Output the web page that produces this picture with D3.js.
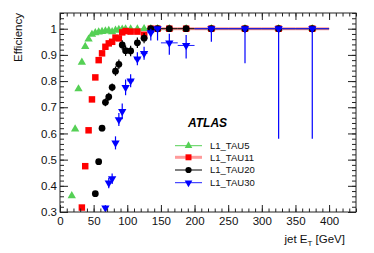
<!DOCTYPE html>
<html>
<head>
<meta charset="utf-8">
<script src="https://cdn.jsdelivr.net/npm/d3@7"></script>
<style>
  body { margin: 0; background: #fff; }
  text { font-family: "Liberation Sans", Arial, Helvetica, sans-serif; }
</style>
</head>
<body>
<div id="chart"></div>
<script>
// bin centres (GeV) and efficiencies
const tau5X  = [17.5,22.5,27.5,32.5,37.5,42.5,47.5,52.5,57.5,62.5,67.5,72.5,77.5,82.5,87.5,92.5,97.5,105,115,125,135,145,162.5,187.5,225,275,325,375]
const tau5Y  = [0.362,0.617,0.770,0.872,0.932,0.960,0.978,0.984,0.987,0.989,0.991,0.993,0.988,0.994,0.997,0.998,0.999,0.999,0.999,1,1,1,1,1,1,1,1,1]

const tau11X = [32.5,37.5,42.5,47.5,52.5,57.5,62.5,67.5,72.5,77.5,82.5,87.5,92.5,97.5,105,115,125,135,145,162.5,187.5,225,275,325,375]
const tau11Y = [0.317,0.475,0.612,0.730,0.814,0.880,0.906,0.931,0.944,0.950,0.966,0.963,0.986,0.991,0.989,0.989,0.977,1,1,1,1,1,1,1,1]

const tau20X = [52.5,57.5,62.5,67.5,72.5,77.5,82.5,87.5,92.5,97.5,105,115,125,135,145,162.5,187.5,225,275,325,375]
const tau20Y = [0.370,0.492,0.620,0.719,0.740,0.776,0.838,0.864,0.938,0.916,0.915,0.946,0.964,1,1,1,1,1,1,1,1]
const tau20ErrLo = [0.008,0.01,0.012,0.015,0.015,0.015,0.018,0.018,0.018,0.02,0.02,0.02,0.02,0,0,0,0,0,0,0,0]
const tau20ErrHi = [0.008,0.01,0.012,0.015,0.015,0.015,0.018,0.018,0.018,0.02,0.02,0.02,0.02,0,0,0,0,0,0,0,0]

const tau30X = [67.5,72.5,77.5,82.5,87.5,92.5,97.5,105,115,125,135,145,162.5,187.5,225,275,325,375]
const tau30Y = [0.316,0.411,0.427,0.564,0.653,0.684,0.776,0.801,0.885,0.906,0.985,1,0.946,0.936,1,1,1,1]
const tau30ErrLo = [0.01,0.02,0.02,0.025,0.025,0.03,0.03,0.025,0.025,0.025,0.03,0.045,0.045,0.05,0.05,0.132,0.42,0.42]
const tau30ErrHi = [0.01,0.02,0.02,0.025,0.025,0.03,0.03,0.025,0.025,0.025,0.015,0,0.035,0.04,0,0,0,0]

const xTicks = [0,50,100,150,200,250,300,350,400]
const yTicks = [0.3,0.4,0.5,0.6,0.7,0.8,0.9,1]
const legendNames = ["L1_TAU5","L1_TAU11","L1_TAU20","L1_TAU30"]

// half width of each bin from its centre
function halfWidth(x) {
    if (x < 100) return 2.5
    if (x < 150) return 5
    if (x < 200) return 12.5
    return 25
}

const width = 374, height = 253
const margin = {left: 60, right: 18, top: 13, bottom: 41}
const x = d3.scaleLinear().domain([0, 440]).range([margin.left, width - margin.right])
const y = d3.scaleLinear().domain([0.3, 1.06]).range([height - margin.bottom, margin.top])

const svg = d3.select("#chart").append("svg")
    .attr("width", width).attr("height", height)

const clip = svg.append("clipPath").attr("id", "plotclip")
clip.append("rect")
    .attr("x", margin.left).attr("y", margin.top)
    .attr("width", width - margin.left - margin.right)
    .attr("height", height - margin.top - margin.bottom)

const series = [
    {xs: tau5X,  ys: tau5Y,  lo: null, hi: null, color: "#55d055", shape: "up",   bar: "#55d055", barW: 1},
    {xs: tau11X, ys: tau11Y, lo: null, hi: null, color: "#ff0000", shape: "sq",   bar: "#ff9a9a", barW: 3},
    {xs: tau20X, ys: tau20Y, lo: tau20ErrLo, hi: tau20ErrHi, color: "#000000", shape: "circ", bar: "#000000", barW: 1},
    {xs: tau30X, ys: tau30Y, lo: tau30ErrLo, hi: tau30ErrHi, color: "#0000ff", shape: "down", bar: "#2020ff", barW: 1}
]

function markerPath(shape, k) {
    k = k || 1
    if (shape == "up" || shape == "down") return d3.symbol(d3.symbolTriangle, 30 * k)()
    if (shape == "sq") return d3.symbol(d3.symbolSquare, 42 * k)()
    return d3.symbol(d3.symbolCircle, 36 * k)()
}

const plotG = svg.append("g").attr("clip-path", "url(#plotclip)")

series.forEach(s => {
    const pts = s.xs.map((xv, i) => ({x: xv, y: s.ys[i], lo: s.lo ? s.lo[i] : 0, hi: s.hi ? s.hi[i] : 0}))
    const g = plotG.append("g")
    // horizontal error bars
    g.selectAll(".xerr").data(pts).enter().append("line")
        .attr("x1", d => x(d.x - halfWidth(d.x)))
        .attr("x2", d => x(d.x + halfWidth(d.x)))
        .attr("y1", d => y(d.y)).attr("y2", d => y(d.y))
        .style("stroke", s.bar).style("stroke-width", s.barW)
    // vertical error bars
    g.selectAll(".yerr").data(pts.filter(d => d.lo + d.hi > 0)).enter().append("line")
        .attr("x1", d => x(d.x)).attr("x2", d => x(d.x))
        .attr("y1", d => y(d.y - d.lo)).attr("y2", d => y(d.y + d.hi))
        .style("stroke", s.color).style("stroke-width", 1.2)
    g.selectAll(".mk").data(pts).enter().append("path")
        .attr("d", markerPath(s.shape))
        .attr("transform", d => "translate(" + x(d.x) + "," + y(d.y) + ")" + (s.shape == "down" ? " rotate(180)" : ""))
        .style("fill", s.color)
})

// frame and axes, ROOT style ticks pointing inward
const axG = svg.append("g")
function minorRange(a, b, step) {
    const out = []
    for (let v = a; v <= b + 1e-9; v += step) out.push(+v.toFixed(3))
    return out
}
const xMinor = minorRange(0, 440, 10)
const yMinor = minorRange(0.3, 1.06, 0.02)

axG.append("g").attr("transform", "translate(0," + y.range()[0] + ")")
    .call(d3.axisBottom(x).tickValues(xTicks).tickSizeInner(-7).tickSizeOuter(0).tickPadding(5).tickFormat(d3.format("d")))
axG.append("g").attr("transform", "translate(0," + y.range()[0] + ")")
    .call(d3.axisBottom(x).tickValues(xMinor).tickSizeInner(-3.5).tickSizeOuter(0).tickFormat(""))
axG.append("g").attr("transform", "translate(0," + y.range()[1] + ")")
    .call(d3.axisTop(x).tickValues(xTicks).tickSizeInner(-7).tickSizeOuter(0).tickFormat(""))
axG.append("g").attr("transform", "translate(0," + y.range()[1] + ")")
    .call(d3.axisTop(x).tickValues(xMinor).tickSizeInner(-3.5).tickSizeOuter(0).tickFormat(""))

axG.append("g").attr("transform", "translate(" + x.range()[0] + ",0)")
    .call(d3.axisLeft(y).tickValues(yTicks).tickSizeInner(-8).tickSizeOuter(0).tickPadding(3).tickFormat(d => d == 1 ? "1" : d3.format(".1f")(d)))
axG.append("g").attr("transform", "translate(" + x.range()[0] + ",0)")
    .call(d3.axisLeft(y).tickValues(yMinor).tickSizeInner(-4).tickSizeOuter(0).tickFormat(""))
axG.append("g").attr("transform", "translate(" + x.range()[1] + ",0)")
    .call(d3.axisRight(y).tickValues(yTicks).tickSizeInner(-8).tickSizeOuter(0).tickFormat(""))
axG.append("g").attr("transform", "translate(" + x.range()[1] + ",0)")
    .call(d3.axisRight(y).tickValues(yMinor).tickSizeInner(-4).tickSizeOuter(0).tickFormat(""))

axG.selectAll(".domain").remove()
axG.selectAll("text").style("font-size", "11.5px").style("font-family", "'Liberation Sans', Arial, sans-serif").style("fill", "#111")
axG.selectAll("line").style("stroke", "#222")

svg.append("rect")
    .attr("x", x.range()[0]).attr("y", y.range()[1])
    .attr("width", x.range()[1] - x.range()[0])
    .attr("height", y.range()[0] - y.range()[1])
    .style("fill", "none").style("stroke", "#222").style("stroke-width", 1)

// axis titles
svg.append("text")
    .attr("transform", "translate(21.5," + margin.top + ") rotate(-90)")
    .attr("text-anchor", "end")
    .style("font-size", "11.5px").style("fill", "#111")
    .text("Efficiency")

const xt = svg.append("text")
    .attr("x", 345).attr("y", 243)
    .attr("text-anchor", "end")
    .style("font-size", "11.5px").style("fill", "#111")
xt.append("tspan").text("jet E")
xt.append("tspan").attr("dy", 3).style("font-size", "8px").text("T")
xt.append("tspan").attr("dy", -3).text(" [GeV]")

// ATLAS label
svg.append("text")
    .attr("x", 188).attr("y", 127)
    .style("font-size", "12px").style("font-weight", "bold").style("font-style", "italic")
    .text("ATLAS")

// legend
const legendY = [145.7, 157.3, 170, 182.7]
const lg = svg.append("g")
series.forEach((s, i) => {
    lg.append("line")
        .attr("x1", 175).attr("x2", 202)
        .attr("y1", legendY[i]).attr("y2", legendY[i])
        .style("stroke", s.bar).style("stroke-width", s.barW)
    lg.append("path")
        .attr("d", markerPath(s.shape, 0.85))
        .attr("transform", "translate(188.5," + legendY[i] + ")" + (s.shape == "down" ? " rotate(180)" : ""))
        .style("fill", s.color)
    lg.append("text")
        .attr("x", 210).attr("y", legendY[i] + 3.3)
        .style("font-size", "9.5px").style("fill", "#111")
        .text(legendNames[i])
})
</script>
</body>
</html>
